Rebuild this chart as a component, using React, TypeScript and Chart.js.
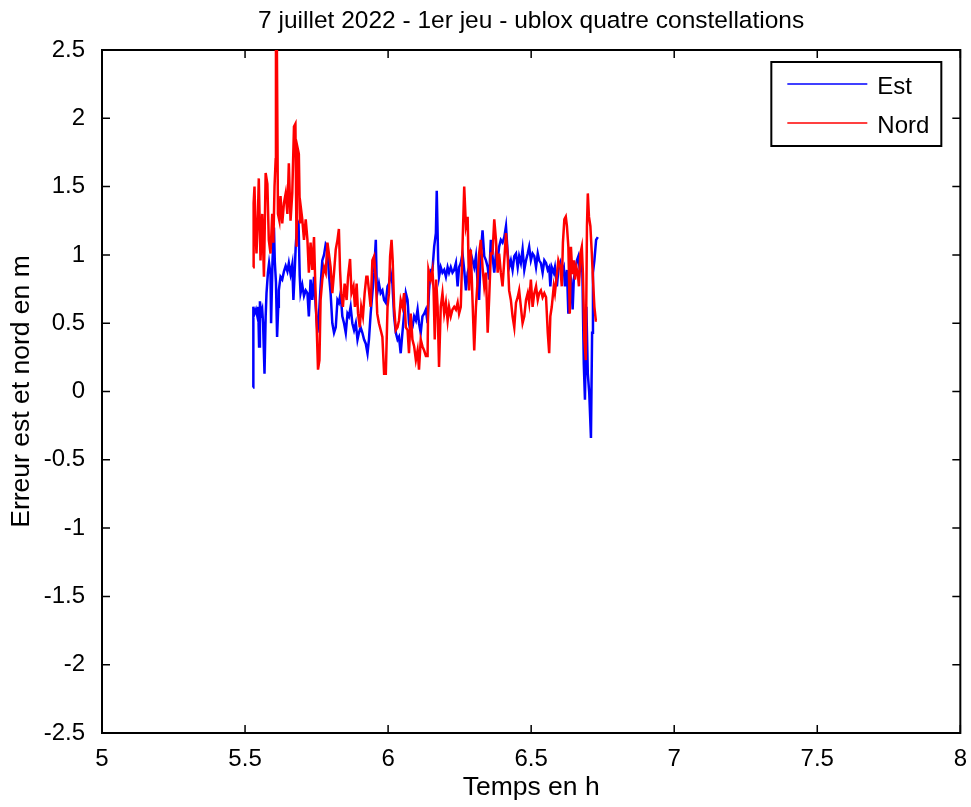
import React, { useEffect, useRef } from "react";
import { Chart, registerables } from "chart.js";

Chart.register(...registerables);

const FONT = '"Liberation Sans", Arial, Helvetica, sans-serif';

const titleText = "7 juillet 2022 - 1er jeu - ublox quatre constellations";
const xAxisTitle = "Temps en h";
const yAxisTitle = "Erreur est et nord en m";
const seriesLabels = ["Est", "Nord"];
const seriesColors = ["#0000ff", "#ff0000"];

const xTickValues = [5, 5.5, 6, 6.5, 7, 7.5, 8];
const yTickValues = [-2.5, -2, -1.5, -1, -0.5, 0, 0.5, 1, 1.5, 2, 2.5];

// East error (m) against time (h)
const estTime = [
  5.528, 5.529, 5.533, 5.538, 5.543, 5.546, 5.549, 5.552, 5.556, 5.56, 5.563, 5.568, 5.572, 5.575, 5.58,
  5.584, 5.589, 5.591, 5.596, 5.601, 5.604, 5.608, 5.612, 5.616, 5.618, 5.624, 5.63, 5.636, 5.642, 5.648,
  5.653, 5.659, 5.665, 5.669, 5.673, 5.677, 5.683, 5.687, 5.691, 5.694, 5.7, 5.706, 5.712,
  5.718, 5.723, 5.729, 5.735, 5.741, 5.747, 5.753, 5.758, 5.764, 5.77, 5.776, 5.782, 5.788, 5.793, 5.799,
  5.805, 5.811, 5.817, 5.823, 5.828, 5.834, 5.84, 5.846, 5.852, 5.858, 5.863, 5.869, 5.875, 5.881, 5.887,
  5.893, 5.898, 5.904, 5.91, 5.916, 5.922,
  5.928, 5.933, 5.939, 5.945, 5.951, 5.957, 5.96, 5.962, 5.968, 5.974, 5.98, 5.986, 5.992, 5.998, 6.003,
  6.009, 6.015, 6.021, 6.027, 6.033, 6.038, 6.044, 6.05, 6.056, 6.062, 6.068, 6.073, 6.079, 6.085, 6.091,
  6.097, 6.103, 6.108, 6.114, 6.12, 6.126, 6.132,
  6.138, 6.143, 6.149, 6.155, 6.161, 6.167, 6.17, 6.175, 6.178, 6.184, 6.19, 6.196, 6.202, 6.208, 6.213,
  6.219, 6.225, 6.231, 6.237, 6.243, 6.248, 6.254, 6.26, 6.266, 6.272, 6.278, 6.283, 6.289, 6.295, 6.301,
  6.307, 6.313, 6.318, 6.324, 6.33, 6.336, 6.342,
  6.348, 6.353, 6.359, 6.365, 6.371, 6.377, 6.383, 6.388, 6.394, 6.4, 6.406, 6.412, 6.418, 6.423, 6.429,
  6.435, 6.441, 6.447, 6.453, 6.458, 6.464, 6.47, 6.476, 6.482, 6.488, 6.493, 6.499, 6.505, 6.511, 6.517,
  6.523, 6.528, 6.534, 6.54, 6.546, 6.552,
  6.558, 6.563, 6.567, 6.572, 6.579, 6.583, 6.59, 6.595, 6.602, 6.607, 6.614, 6.618, 6.625, 6.63, 6.635,
  6.639, 6.645, 6.649, 6.653, 6.66, 6.665, 6.67, 6.674, 6.679, 6.684, 6.688, 6.693, 6.698, 6.703, 6.709,
  6.713, 6.716, 6.721, 6.727, 6.733,
];
const estValues = [
  0.03, 0.62, 0.57, 0.6, 0.55, 0.62, 0.33, 0.66, 0.57, 0.6, 0.5, 0.13, 0.55, 0.72, 0.87,
  0.94, 0.86, 0.5, 0.96, 1.2, 0.95, 0.8, 0.4, 0.62, 0.74, 0.84, 0.82, 0.88, 0.92, 0.88,
  0.94, 0.86, 0.93, 0.67, 0.85, 1.06, 1.25, 1.23, 0.85, 0.72, 0.78, 0.7, 0.74,
  0.72, 0.55, 0.82, 0.67, 0.84, 0.62, 0.43, 0.55, 0.77, 0.96, 1.0, 1.08, 1.06, 0.86, 0.72,
  0.5, 0.43, 0.47, 0.67, 0.65, 0.72, 0.55, 0.5, 0.43, 0.57, 0.55, 0.62, 0.5, 0.45, 0.5,
  0.38, 0.43, 0.47, 0.43, 0.38, 0.35,
  0.28, 0.38, 0.57, 0.72, 0.87, 1.11, 0.8, 0.72, 0.79, 0.72, 0.74, 0.67, 0.65, 0.77, 0.79,
  0.87, 0.79, 0.55, 0.43, 0.38, 0.4, 0.28, 0.43, 0.57, 0.72, 0.67, 0.5, 0.43, 0.47, 0.55,
  0.52, 0.6, 0.5, 0.43, 0.55, 0.57, 0.6,
  0.5, 0.74, 0.89, 0.89, 1.06, 1.16, 1.47, 0.96, 0.84, 0.91, 0.87, 0.89, 0.84, 0.91, 0.87,
  0.91, 0.87, 0.89, 0.94, 0.77, 0.91, 0.94, 1.01, 0.89, 0.74, 0.87, 0.91, 1.01, 0.96, 0.91,
  0.99, 0.79, 0.67, 1.01, 1.18, 0.99, 0.96,
  0.91, 0.82, 1.11, 0.99, 0.87, 1.01, 0.96, 1.06, 1.11, 1.09, 1.13, 1.21, 1.01, 0.91, 0.96,
  0.89, 0.99, 1.01, 0.91, 0.99, 0.94, 1.04, 0.89, 0.96, 1.01, 1.06, 0.96, 1.01, 0.99, 0.91,
  1.01, 0.96, 0.94, 0.87, 0.96, 0.94,
  0.89, 0.91, 0.77, 0.91, 0.87, 0.91, 0.77, 0.89, 0.94, 0.87, 0.91, 0.77, 0.89, 0.57, 0.87,
  0.82, 0.6, 0.82, 0.87, 0.96, 0.99, 0.89, 0.96, 0.87, 0.2, -0.06, 0.62, 0.13, -0.01, -0.34,
  0.43, 0.87, 0.96, 1.11, 1.13,
];

// North error (m) against time (h)
const nordTime = [
  5.528, 5.53, 5.533, 5.537, 5.54, 5.545, 5.548, 5.554, 5.56, 5.566, 5.572, 5.578, 5.583, 5.589, 5.595,
  5.599, 5.603, 5.607, 5.608, 5.611, 5.615, 5.62, 5.624, 5.63, 5.636, 5.642, 5.648, 5.653, 5.659, 5.665,
  5.671, 5.676, 5.68, 5.683, 5.688, 5.692, 5.696, 5.7, 5.706, 5.712,
  5.718, 5.723, 5.729, 5.735, 5.741, 5.745, 5.75, 5.755, 5.76, 5.764, 5.77, 5.776, 5.782, 5.788, 5.793,
  5.799, 5.805, 5.811, 5.817, 5.823, 5.828, 5.832, 5.836, 5.842, 5.848, 5.855, 5.86, 5.867, 5.872, 5.879,
  5.884, 5.89, 5.895, 5.901, 5.906, 5.912, 5.918, 5.924,
  5.928, 5.933, 5.939, 5.945, 5.951, 5.957, 5.962, 5.968, 5.974, 5.98, 5.986, 5.992, 5.998, 6.003, 6.007,
  6.012, 6.016, 6.021, 6.027, 6.033, 6.038, 6.044, 6.05, 6.056, 6.062, 6.068, 6.073, 6.079, 6.085, 6.091,
  6.097, 6.103, 6.108, 6.114, 6.12, 6.126, 6.132,
  6.138, 6.141, 6.143, 6.149, 6.155, 6.159, 6.163, 6.168, 6.173, 6.178, 6.184, 6.19, 6.196, 6.202, 6.208,
  6.213, 6.219, 6.225, 6.231, 6.237, 6.243, 6.248, 6.254, 6.26, 6.266, 6.272, 6.278, 6.283, 6.289, 6.295,
  6.301, 6.307, 6.313, 6.318, 6.324, 6.33, 6.336, 6.342,
  6.348, 6.353, 6.359, 6.365, 6.371, 6.377, 6.383, 6.388, 6.394, 6.4, 6.406, 6.412, 6.418, 6.423, 6.429,
  6.435, 6.441, 6.447, 6.453, 6.458, 6.464, 6.47, 6.476, 6.482, 6.488, 6.493, 6.499, 6.505, 6.511, 6.517,
  6.523, 6.528, 6.534, 6.54, 6.546, 6.552,
  6.558, 6.563, 6.567, 6.572, 6.579, 6.583, 6.59, 6.595, 6.602, 6.607, 6.611, 6.616, 6.621, 6.625, 6.63,
  6.635, 6.639, 6.644, 6.649, 6.653, 6.658, 6.663, 6.667, 6.672, 6.677, 6.681, 6.686, 6.691, 6.695, 6.698,
  6.702, 6.707, 6.712, 6.716, 6.721, 6.726, 6.73,
];
const nordValues = [
  0.91, 1.38, 1.5, 1.15, 1.01, 1.3, 1.56, 0.96, 1.3, 0.84, 1.6, 1.52, 1.11, 1.01, 1.3,
  1.09, 1.5, 1.7, 2.6, 2.6, 1.3, 1.25, 1.43, 1.23, 1.38, 1.45, 1.3, 1.67, 1.25, 1.45,
  1.94, 1.96, 1.06, 1.79, 1.74, 1.23, 1.33, 1.26, 1.11, 1.26,
  1.11, 0.87, 1.09, 0.89, 1.13, 0.82, 0.5, 0.16, 0.23, 0.67, 0.82, 0.91, 0.87, 1.09, 1.01,
  0.91, 0.72, 0.87, 1.04, 1.11, 1.19, 0.89, 0.72, 0.62, 0.79, 0.67, 0.84, 0.97, 0.72, 0.77,
  0.62, 0.79, 0.57, 0.47, 0.62, 0.55, 0.72, 0.84,
  0.84, 0.74, 0.62, 0.96, 0.99, 0.82, 0.57, 0.5, 0.45, 0.4, 0.13, 0.13, 0.62, 0.72, 0.99,
  1.11, 0.96, 0.62, 0.45, 0.47, 0.52, 0.67, 0.62, 0.72, 0.47, 0.45, 0.28, 0.57, 0.38, 0.33,
  0.23, 0.3, 0.16, 0.38, 0.33, 0.3, 0.26,
  0.26, 0.89, 0.87, 0.82, 0.89, 0.74, 0.38, 0.82, 0.62, 0.18, 0.62, 0.72, 0.57, 0.65, 0.52,
  0.62, 0.55, 0.6, 0.62, 0.6, 0.65, 0.57, 0.62, 1.06, 1.5, 1.21, 1.28, 0.74, 1.04, 0.67,
  0.3, 0.62, 0.82, 1.01, 1.11, 0.91, 0.77, 0.87,
  0.43, 0.67, 1.01, 1.01, 1.26, 1.11, 0.87, 1.01, 0.87, 0.77, 0.96, 1.16, 0.99, 0.74, 0.67,
  0.55, 0.47, 0.65, 0.69, 0.74, 0.62, 0.5, 0.55, 0.67, 0.72, 0.65, 0.82, 0.62, 0.72, 0.77,
  0.67, 0.72, 0.74, 0.69, 0.72, 0.69,
  0.43, 0.28, 0.55, 0.62, 0.77, 0.72, 0.86, 0.96, 0.91, 0.77, 1.09, 1.26, 1.28, 1.21, 1.06,
  0.57, 1.06, 0.86, 0.96, 0.82, 0.91, 0.86, 0.77, 1.01, 1.06, 0.86, 0.38, 0.23, 1.21, 1.45,
  1.28, 1.21, 1.01, 0.82, 0.62, 0.52, 0.52,
];

function toPoints(times: number[], values: number[]) {
  const n = Math.min(times.length, values.length);
  const pts: { x: number; y: number }[] = [];
  for (let i = 0; i < n; i++) pts.push({ x: times[i], y: values[i] });
  return pts;
}

// Box around the plot area with inward tick marks on all four sides
const boxPlugin = {
  id: "boxAxes",
  beforeDatasetsDraw(chart: any) {
    const { ctx, chartArea: a, scales } = chart;
    const len = 8;
    ctx.save();
    ctx.strokeStyle = "#000";
    ctx.lineWidth = 1.5;
    ctx.beginPath();
    for (const v of xTickValues) {
      const px = scales.x.getPixelForValue(v);
      ctx.moveTo(px, a.bottom);
      ctx.lineTo(px, a.bottom - len);
      ctx.moveTo(px, a.top);
      ctx.lineTo(px, a.top + len);
    }
    for (const v of yTickValues) {
      const py = scales.y.getPixelForValue(v);
      ctx.moveTo(a.left, py);
      ctx.lineTo(a.left + len, py);
      ctx.moveTo(a.right, py);
      ctx.lineTo(a.right - len, py);
    }
    ctx.stroke();
    ctx.lineWidth = 2;
    ctx.strokeRect(a.left, a.top, a.right - a.left, a.bottom - a.top);
    ctx.restore();
  },
};

// Title centred over the plot area
const plotTitlePlugin = {
  id: "plotTitle",
  afterDraw(chart: any) {
    const { ctx, chartArea: a } = chart;
    ctx.save();
    ctx.fillStyle = "#000";
    ctx.font = `24.5px ${FONT}`;
    ctx.textAlign = "center";
    ctx.textBaseline = "middle";
    ctx.fillText(titleText, (a.left + a.right) / 2, 21);
    ctx.restore();
  },
};

// Boxed legend in the upper-right corner of the plot area
const boxedLegendPlugin = {
  id: "boxedLegend",
  afterDraw(chart: any) {
    const { ctx, chartArea: a } = chart;
    const w = 170;
    const h = 84;
    const left = a.right - 19 - w;
    const top = a.top + 12;
    ctx.save();
    ctx.fillStyle = "#fff";
    ctx.fillRect(left, top, w, h);
    ctx.strokeStyle = "#000";
    ctx.lineWidth = 2;
    ctx.strokeRect(left, top, w, h);
    ctx.font = `24px ${FONT}`;
    ctx.textBaseline = "middle";
    ctx.textAlign = "left";
    const rows = [22, 61];
    seriesLabels.forEach((label, i) => {
      const y = top + rows[i];
      ctx.strokeStyle = seriesColors[i];
      ctx.lineWidth = 1.5;
      ctx.beginPath();
      ctx.moveTo(left + 16, y);
      ctx.lineTo(left + 96, y);
      ctx.stroke();
      ctx.fillStyle = "#000";
      ctx.fillText(label, left + 106, y + 3);
    });
    ctx.restore();
  },
};

export default function App() {
  const canvasRef = useRef<HTMLCanvasElement | null>(null);

  useEffect(() => {
    const canvas = canvasRef.current;
    if (!canvas) return;
    const chart = new Chart(canvas, {
      type: "line",
      data: {
        datasets: [
          {
            label: seriesLabels[0],
            data: toPoints(estTime, estValues),
            borderColor: seriesColors[0],
            backgroundColor: seriesColors[0],
            borderWidth: 2.5,
            pointRadius: 0,
            tension: 0,
            order: 1,
          },
          {
            label: seriesLabels[1],
            data: toPoints(nordTime, nordValues),
            borderColor: seriesColors[1],
            backgroundColor: seriesColors[1],
            borderWidth: 2.5,
            pointRadius: 0,
            tension: 0,
            order: 0,
          },
        ],
      },
      options: {
        responsive: false,
        animation: false,
        events: [],
        layout: { padding: { left: 0, right: 4, top: 50, bottom: 0 } },
        plugins: {
          legend: { display: false },
          tooltip: { enabled: false },
          title: { display: false },
        },
        scales: {
          x: {
            type: "linear",
            min: 5,
            max: 8,
            grid: { display: false },
            border: { display: false },
            afterBuildTicks: (s: any) => {
              s.ticks = xTickValues.map((v) => ({ value: v }));
            },
            afterFit: (s: any) => {
              s.height = 74;
            },
            ticks: {
              color: "#000",
              padding: 4,
              maxRotation: 0,
              autoSkip: false,
              font: { family: FONT, size: 24 },
              callback: (v: any) => String(v),
            },
            title: {
              display: true,
              text: xAxisTitle,
              color: "#000",
              font: { family: FONT, size: 26.5 },
              padding: { top: 0, bottom: 3 },
            },
          },
          y: {
            type: "linear",
            min: -2.5,
            max: 2.5,
            grid: { display: false },
            border: { display: false },
            afterBuildTicks: (s: any) => {
              s.ticks = yTickValues.map((v) => ({ value: v }));
            },
            afterFit: (s: any) => {
              s.width = 102;
            },
            ticks: {
              color: "#000",
              padding: 9,
              autoSkip: false,
              font: { family: FONT, size: 24 },
              callback: (v: any) => String(v),
            },
            title: {
              display: true,
              text: yAxisTitle,
              color: "#000",
              font: { family: FONT, size: 26.5 },
              padding: { top: 6, bottom: 0 },
            },
          },
        },
      },
      plugins: [boxPlugin, plotTitlePlugin, boxedLegendPlugin],
    });
    return () => chart.destroy();
  }, []);

  return (
    <div style={{ position: "fixed", left: 0, top: 0, width: 971, height: 807, background: "#fff" }}>
      <canvas ref={canvasRef} width={971} height={807} />
    </div>
  );
}
